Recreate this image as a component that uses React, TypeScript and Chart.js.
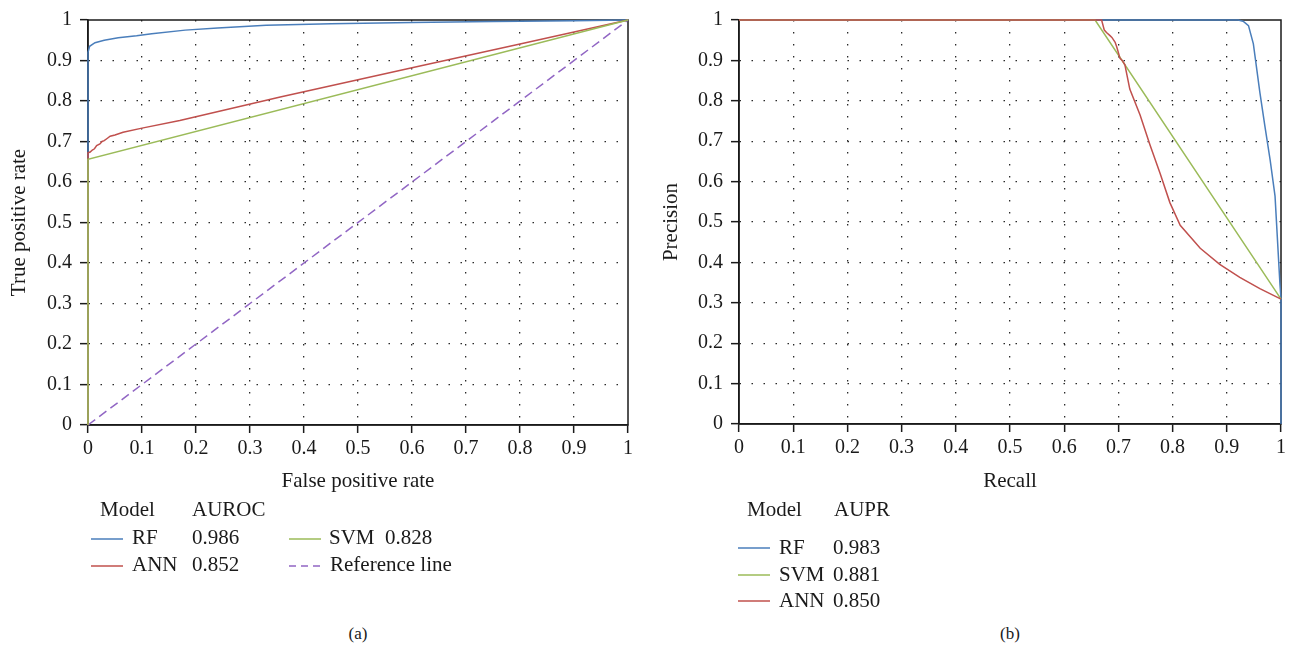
import React, { useEffect, useRef } from "react";
import { Chart, registerables } from "chart.js";

Chart.register(...registerables);

// ---------- data ----------
const tickValues = [0, 0.1, 0.2, 0.3, 0.4, 0.5, 0.6, 0.7, 0.8, 0.9, 1];
const tickLabels = ["0", "0.1", "0.2", "0.3", "0.4", "0.5", "0.6", "0.7", "0.8", "0.9", "1"];

// ROC (a)
const rocRfFpr = [0, 0, 0.003, 0.013, 0.03, 0.056, 0.09, 0.118, 0.18, 0.24, 0.33, 0.45, 0.6, 0.75, 0.9, 1];
const rocRfTpr = [0, 0.92, 0.935, 0.944, 0.95, 0.956, 0.961, 0.966, 0.975, 0.98, 0.987, 0.991, 0.994, 0.996, 0.998, 1];
const rocAnnFpr = [0, 0, 0.004, 0.008, 0.012, 0.016, 0.022, 0.026, 0.03, 0.036, 0.041, 0.05, 0.065, 0.1, 0.17, 0.356, 0.6, 0.8, 1];
const rocAnnTpr = [0, 0.672, 0.674, 0.679, 0.682, 0.69, 0.694, 0.7, 0.702, 0.708, 0.713, 0.716, 0.723, 0.733, 0.752, 0.81, 0.882, 0.941, 1];
const rocSvmFpr = [0, 0, 1];
const rocSvmTpr = [0, 0.656, 1];
const rocRefFpr = [0, 1];
const rocRefTpr = [0, 1];

// PR (b)
const prRfRecall = [0, 0.921, 0.93, 0.94, 0.949, 0.961, 0.97, 0.98, 0.989, 0.998, 1, 1];
const prRfPrecision = [1, 1, 0.997, 0.986, 0.941, 0.821, 0.74, 0.653, 0.564, 0.347, 0.31, 0];
const prSvmRecall = [0, 0.657, 1];
const prSvmPrecision = [1, 1, 0.309];
const prAnnRecall = [0, 0.669, 0.674, 0.678, 0.684, 0.688, 0.694, 0.697, 0.703, 0.707, 0.712, 0.721, 0.74, 0.758, 0.777, 0.795, 0.814, 0.851, 0.887, 0.924, 0.961, 1];
const prAnnPrecision = [1, 1, 0.975, 0.969, 0.962, 0.957, 0.945, 0.933, 0.905, 0.9, 0.889, 0.829, 0.765, 0.692, 0.62, 0.548, 0.492, 0.435, 0.395, 0.363, 0.335, 0.309];

const rocLegendNames = ["RF", "ANN", "SVM", "Reference line"];
const rocLegendScores = ["0.986", "0.852", "0.828", ""];
const prLegendNames = ["RF", "SVM", "ANN"];
const prLegendScores = ["0.983", "0.881", "0.850"];

// ---------- styles ----------
const BLUE = "#4a7ebb";
const RED = "#c0504d";
const GREEN = "#9bbb59";
const PURPLE = "#9166c4";
const FONT = "'Liberation Serif', 'Times New Roman', serif";
const TEXT = "#1a1a1a";

const pts = (xs: number[], ys: number[]) => xs.map((x, i) => ({ x, y: ys[i] }));

const isEdge = (v: number) => v < 1e-6 || v > 1 - 1e-6;

const framePlugin = {
  id: "frame",
  beforeDatasetsDraw(chart: any) {
    const { ctx, chartArea: a } = chart;
    ctx.save();
    ctx.strokeStyle = "#1a1a1a";
    ctx.lineWidth = 1.5;
    ctx.setLineDash([]);
    ctx.strokeRect(a.left, a.top, a.right - a.left, a.bottom - a.top);
    ctx.restore();
  },
};

function makeAxis(title: string, titlePad: any, fit: number, horizontal: boolean) {
  return {
    type: "linear",
    min: 0,
    max: 1,
    afterBuildTicks: (s: any) => {
      s.ticks = tickValues.map((v) => ({ value: v }));
    },
    afterFit: (s: any) => {
      if (horizontal) s.height = fit;
      else s.width = fit;
    },
    ticks: {
      autoSkip: false,
      maxRotation: 0,
      color: TEXT,
      padding: horizontal ? 4 : 8,
      font: { family: FONT, size: 20 },
      callback: (v: number) => {
        const i = tickValues.findIndex((t) => Math.abs(t - v) < 1e-6);
        return i >= 0 ? tickLabels[i] : "";
      },
    },
    grid: {
      color: (c: any) => (c.tick && isEdge(c.tick.value) ? "rgba(0,0,0,0)" : "#2a2a2a"),
      lineWidth: 1.3,
      tickLength: 8,
      tickColor: "#1a1a1a",
      tickWidth: 1.5,
      tickBorderDash: [],
    },
    border: { display: true, color: "#1a1a1a", width: 1.5, dash: [1.5, 10.5] },
    title: {
      display: true,
      text: title,
      color: TEXT,
      font: { family: FONT, size: 21 },
      padding: titlePad,
    },
  };
}

function line(data: any, color: string, dash: number[] = []) {
  return {
    data,
    borderColor: color,
    backgroundColor: color,
    borderWidth: 1.5,
    borderDash: dash,
    pointRadius: 0,
    showLine: true,
    fill: false,
    tension: 0,
    clip: 4,
  };
}

function useChart(ref: React.RefObject<HTMLCanvasElement>, config: any) {
  useEffect(() => {
    if (!ref.current) return;
    const c = new Chart(ref.current, config);
    return () => c.destroy();
  }, []);
}

const baseOptions = (pad: any, xAxis: any, yAxis: any) => ({
  responsive: false,
  animation: false,
  devicePixelRatio: 1,
  layout: { padding: pad },
  plugins: { legend: { display: false }, tooltip: { enabled: false } },
  scales: { x: xAxis, y: yAxis },
});

const LegendLine = ({ x, y, color, dashed }: any) => (
  <svg style={{ position: "absolute", left: x, top: y - 2, width: 32, height: 4 }}>
    <line x1={0} y1={2} x2={32} y2={2} stroke={color} strokeWidth={1.5} strokeDasharray={dashed ? "7 5" : undefined} />
  </svg>
);

const Txt = ({ x, y, children, size = 21 }: any) => (
  <div
    style={{
      position: "absolute",
      left: x,
      top: y,
      fontFamily: FONT,
      fontSize: size,
      lineHeight: "24px",
      color: TEXT,
      whiteSpace: "nowrap",
    }}
  >
    {children}
  </div>
);

export default function App() {
  const rocRef = useRef<HTMLCanvasElement>(null);
  const prRef = useRef<HTMLCanvasElement>(null);

  useChart(rocRef, {
    type: "scatter",
    data: {
      datasets: [
        line(pts(rocSvmFpr, rocSvmTpr), GREEN),
        line(pts(rocAnnFpr, rocAnnTpr), RED),
        line(pts(rocRfFpr, rocRfTpr), BLUE),
        line(pts(rocRefFpr, rocRefTpr), PURPLE, [9, 5]),
      ],
    },
    options: baseOptions(
      { left: 0, top: 17, right: 12, bottom: 0 },
      makeAxis("False positive rate", { top: 0, bottom: 6 }, 75, true),
      makeAxis("True positive rate", { top: 7, bottom: 0 }, 88, false)
    ),
    plugins: [framePlugin],
  });

  useChart(prRef, {
    type: "scatter",
    data: {
      datasets: [
        line(pts(prAnnRecall, prAnnPrecision), RED),
        line(pts(prSvmRecall, prSvmPrecision), GREEN),
        line(pts(prRfRecall, prRfPrecision), BLUE),
      ],
    },
    options: baseOptions(
      { left: 0, top: 9, right: 9, bottom: 0 },
      makeAxis("Recall", { top: 0, bottom: 6 }, 76, true),
      makeAxis("Precision", { top: 9, bottom: 0 }, 89, false)
    ),
    plugins: [framePlugin],
  });

  const rocColors = [BLUE, RED, GREEN, PURPLE];
  const prColors = [BLUE, GREEN, RED];

  return (
    <div style={{ position: "absolute", left: 0, top: 0, width: 1290, height: 652, background: "#fff", overflow: "hidden" }}>
      <canvas ref={rocRef} width={640} height={500} style={{ position: "absolute", left: 0, top: 0 }} />
      <canvas ref={prRef} width={640} height={500} style={{ position: "absolute", left: 650, top: 0 }} />

      {/* legend (a) */}
      <Txt x={100} y={497}>Model</Txt>
      <Txt x={192} y={497}>AUROC</Txt>
      <LegendLine x={91} y={539} color={rocColors[0]} />
      <Txt x={132} y={525}>{rocLegendNames[0]}</Txt>
      <Txt x={192} y={525}>{rocLegendScores[0]}</Txt>
      <LegendLine x={91} y={566} color={rocColors[1]} />
      <Txt x={132} y={552}>{rocLegendNames[1]}</Txt>
      <Txt x={192} y={552}>{rocLegendScores[1]}</Txt>
      <LegendLine x={289} y={539} color={rocColors[2]} />
      <Txt x={329} y={525}>{rocLegendNames[2]}</Txt>
      <Txt x={385} y={525}>{rocLegendScores[2]}</Txt>
      <LegendLine x={289} y={566} color={rocColors[3]} dashed />
      <Txt x={330} y={552}>{rocLegendNames[3]}</Txt>

      {/* legend (b) */}
      <Txt x={747} y={497}>Model</Txt>
      <Txt x={834} y={497}>AUPR</Txt>
      {prLegendNames.map((n, i) => (
        <React.Fragment key={n}>
          <LegendLine x={738} y={548 + i * 26.5} color={prColors[i]} />
          <Txt x={779} y={535 + i * 26.5}>{n}</Txt>
          <Txt x={833} y={535 + i * 26.5}>{prLegendScores[i]}</Txt>
        </React.Fragment>
      ))}

      {/* captions */}
      <div style={{ position: "absolute", left: 308, width: 100, top: 622, textAlign: "center", fontFamily: FONT, fontSize: 17, lineHeight: "24px", color: TEXT }}>(a)</div>
      <div style={{ position: "absolute", left: 960, width: 100, top: 622, textAlign: "center", fontFamily: FONT, fontSize: 17, lineHeight: "24px", color: TEXT }}>(b)</div>
    </div>
  );
}
